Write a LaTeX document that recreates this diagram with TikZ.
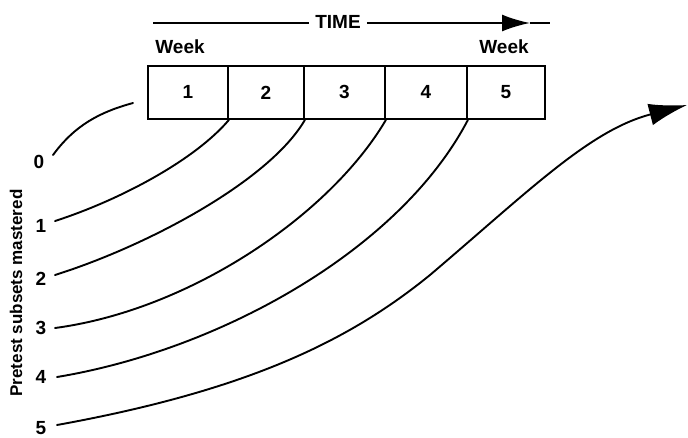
\documentclass[tikz,border=0pt]{standalone}
\usepackage{fontspec}
\setmainfont{Liberation Sans}
\usetikzlibrary{arrows.meta}
\begin{document}
\begin{tikzpicture}[x=1pt,y=-1pt,
  txt/.style={font=\fontsize{19}{21}\selectfont\bfseries, inner sep=1pt},
  cell/.style={draw, line width=1.9pt, inner sep=0pt, minimum height=53pt, anchor=north west, font=\fontsize{19}{21}\selectfont\bfseries},
  curve/.style={line width=1.9pt, line cap=round},
  bigtip/.style={-{Latex[length=38pt,width=22pt]}}
]
\useasboundingbox (0,0) rectangle (688,437);
% time arrow
\node[txt, inner xsep=6pt] (time) at (338,22) {TIME};
\coordinate (tl) at (153,23);
\coordinate (tt) at (530,23);
\coordinate (te) at (550,23);
\draw[line width=1.9pt] (tl) -- (time.west |- tl);
\draw[line width=1.9pt, -{Latex[length=28pt,width=17pt]}] (time.east |- tt) -- (tt);
\draw[line width=1.9pt] (tt) -- (te);
\node[txt] (wk1) at (180,47) {Week};
\node[txt] (wk5) at (504,47) {Week};
% cells
\node[cell, minimum width=80pt] (c1) at (147,65) {1};
\node[cell, minimum width=76pt] (c2) at (227,65) {2};
\node[cell, minimum width=81pt] (c3) at (303,65) {3};
\node[cell, minimum width=82pt] (c4) at (384,65) {4};
\node[cell, minimum width=78pt] (c5) at (466,65) {5};
% labels
\node[txt] (l0) at (39,162) {0};
\node[txt] (l1) at (41,226) {1};
\node[txt] (l2) at (41,279) {2};
\node[txt] (l3) at (41,328) {3};
\node[txt] (l4) at (41,377) {4};
\node[txt] (l5) at (41,428) {5};
\node[font=\fontsize{17}{19}\selectfont\bfseries, rotate=90, inner sep=1pt] (ylab) at (16,293) {Pretest subsets mastered};
% curves
\coordinate (s0) at (53,155);
\coordinate (e0) at (133,103);
\draw[curve] (s0) .. controls (75,125) and (100,112) .. (e0);
\coordinate (s1) at (55,221);
\draw[curve] (s1) .. controls (120,200) and (195,160) .. (c1.south east);
\coordinate (s2) at (55,275);
\draw[curve] (s2) .. controls (150,245) and (270,180) .. (c2.south east);
\coordinate (s3) at (55,328);
\draw[curve] (s3) .. controls (190,310) and (330,215) .. (c3.south east);
\coordinate (s4) at (57,377);
\draw[curve] (s4) .. controls (220,350) and (400,250) .. (c4.south east);
\coordinate (s5) at (57,425);
\coordinate (m5) at (430,275);
\coordinate (e5) at (687,105);
\draw[curve, bigtip] (s5) .. controls (250,390) and (350,340) .. (m5) .. controls (530,190) and (590,130) .. (e5);
\end{tikzpicture}
\end{document}
